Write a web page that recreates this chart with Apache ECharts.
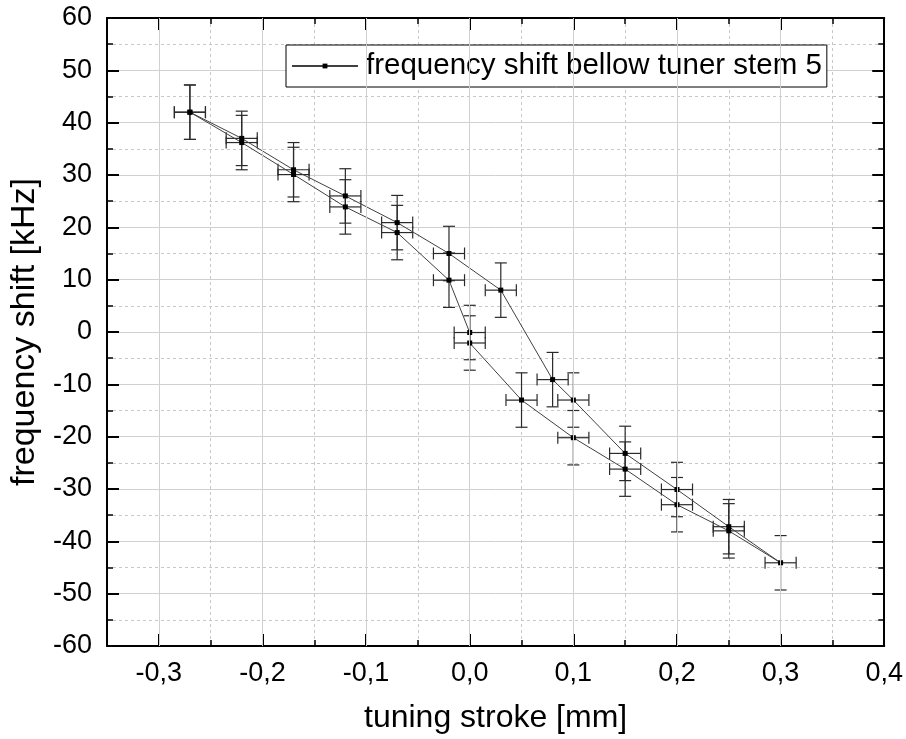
<!DOCTYPE html>
<html>
<head>
<meta charset="utf-8">
<script src="https://cdn.jsdelivr.net/npm/echarts@6/dist/echarts.min.js"></script>
<style>
  html, body { margin: 0; padding: 0; background: #fff; }
  #chart { width: 906px; height: 739px; }
</style>
</head>
<body>
<div id="chart"></div>
<script>
// tuning stroke [mm] and frequency shift [kHz], stroke going forward (upper branch)
const strokeForward = [-0.27, -0.22, -0.17, -0.12, -0.07, -0.02, 0.03, 0.08, 0.10, 0.15, 0.20, 0.25, 0.30]
const shiftForward = [42.0, 37.0, 31.0, 26.0, 20.9, 15.0, 8.0, -9.1, -13.0, -23.2, -30.1, -37.2, -44.1]
// stroke going back (lower branch)
const strokeBack = [0.25, 0.20, 0.15, 0.10, 0.05, 0.00, 0.00, -0.02, -0.07, -0.12, -0.17, -0.22, -0.27]
const shiftBack = [-38.0, -33.0, -26.2, -20.2, -13.0, -2.1, -0.1, 9.9, 19.0, 23.9, 30.1, 36.2, 42.0]

// error bars
const strokeErr = 0.015
const shiftErr = 5.2

const xMajorTicks = [-0.3, -0.2, -0.1, 0.0, 0.1, 0.2, 0.3, 0.4]
const seriesName = 'frequency shift bellow tuner stem 5'

const FONT = '"Liberation Sans", Arial, sans-serif'

const points = []
strokeForward.forEach( ( x, i ) => points.push( [x, shiftForward[i]] ) )
strokeBack.forEach( ( x, i ) => points.push( [x, shiftBack[i]] ) )

const chart = echarts.init( document.getElementById( 'chart' ) )

const fmtX = v => {
  const r = Math.round( v * 10 ) / 10 + 0
  return r.toFixed( 1 ).replace( '.', ',' )
}

const xBase = {
  type : 'value',
  min : -0.35,
  max : 0.4,
  interval : 0.05,
  gridIndex : 0
}

const yBase = {
  type : 'value',
  min : -60,
  max : 60,
  interval : 10,
  gridIndex : 0
}

chart.setOption( {
  animation : false,
  textStyle : { fontFamily : FONT },
  grid : {
    left : 107,
    right : 21,
    top : 18,
    bottom : 92,
    containLabel : false
  },
  legend : {
    data : [seriesName],
    left : 286,
    top : 45,
    padding : [6, 5, 6, 5],
    borderColor : '#000',
    borderWidth : 1,
    backgroundColor : '#fff',
    itemWidth : 66,
    itemHeight : 6,
    itemGap : 8,
    textStyle : { fontSize : 29.5, color : '#000', fontFamily : FONT, padding : [0, 0, 0, 3] }
  },
  xAxis : [
    // minor ticks + dashed grid every 0.05, carries the axis line and name
    Object.assign( {}, xBase, {
      position : 'bottom',
      name : 'tuning stroke [mm]',
      nameLocation : 'middle',
      nameGap : 56,
      nameTextStyle : { fontSize : 32, color : '#000', fontFamily : FONT },
      axisLine : { show : true, onZero : false, lineStyle : { color : '#000', width : 2 } },
      axisTick : { show : true, inside : true, length : 6, lineStyle : { color : '#000', width : 1.5 } },
      axisLabel : { show : false },
      splitLine : { show : true, lineStyle : { color : '#c8c8c8', width : 1, type : [3, 3] } }
    } ),
    // major ticks and labels at 0.1
    Object.assign( {}, xBase, {
      position : 'bottom',
      axisLine : { show : false, onZero : false },
      axisTick : { show : true, inside : true, length : 12, customValues : xMajorTicks, lineStyle : { color : '#000', width : 2 } },
      axisLabel : {
        show : true,
        customValues : xMajorTicks,
        margin : 14,
        fontSize : 27,
        color : '#000',
        fontFamily : FONT,
        formatter : v => ( Math.round( v * 20 ) % 2 ? '' : fmtX( v ) )
      },
      splitLine : { show : false }
    } ),
    Object.assign( {}, xBase, {
      position : 'top',
      axisLine : { show : true, onZero : false, lineStyle : { color : '#000', width : 2 } },
      axisTick : { show : true, inside : true, length : 6, lineStyle : { color : '#000', width : 1.5 } },
      axisLabel : { show : false },
      splitLine : { show : false }
    } ),
    Object.assign( {}, xBase, {
      position : 'top',
      axisLine : { show : false, onZero : false },
      axisTick : { show : true, inside : true, length : 12, customValues : xMajorTicks, lineStyle : { color : '#000', width : 2 } },
      axisLabel : { show : false },
      splitLine : { show : false }
    } )
  ],
  yAxis : [
    Object.assign( {}, yBase, {
      position : 'left',
      name : 'frequency shift [kHz]',
      nameLocation : 'middle',
      nameGap : 58,
      nameTextStyle : { fontSize : 34, color : '#000', fontFamily : FONT },
      axisLine : { show : true, onZero : false, lineStyle : { color : '#000', width : 2 } },
      axisTick : { show : true, inside : true, length : 12, lineStyle : { color : '#000', width : 2 } },
      minorTick : { show : true, splitNumber : 2, length : 6, lineStyle : { color : '#000', width : 1.5 } },
      axisLabel : { margin : 15, fontSize : 27, color : '#000', fontFamily : FONT },
      splitLine : { show : true, lineStyle : { color : '#d0d0d0', width : 1 } },
      minorSplitLine : { show : true, lineStyle : { color : '#c8c8c8', width : 1, type : [3, 3] } }
    } ),
    Object.assign( {}, yBase, {
      position : 'right',
      axisLine : { show : true, onZero : false, lineStyle : { color : '#000', width : 2 } },
      axisTick : { show : true, inside : true, length : 12, lineStyle : { color : '#000', width : 2 } },
      minorTick : { show : true, splitNumber : 2, length : 6, lineStyle : { color : '#000', width : 1.5 } },
      axisLabel : { show : false },
      splitLine : { show : false }
    } )
  ],
  series : [
    {
      // solid major vertical grid lines at the 0.1 ticks
      type : 'line',
      xAxisIndex : 0,
      yAxisIndex : 0,
      data : [],
      silent : true,
      markLine : {
        silent : true,
        symbol : 'none',
        label : { show : false },
        lineStyle : { color : '#d0d0d0', width : 1, type : 'solid' },
        data : xMajorTicks.filter( v => v < 0.4 ).map( v => ( { xAxis : v } ) )
      },
      z : 0
    },
    {
      name : 'error',
      type : 'custom',
      xAxisIndex : 0,
      yAxisIndex : 0,
      data : points,
      encode : { x : 0, y : 1 },
      z : 3,
      renderItem : ( params, api ) => {
        const x = api.value( 0 )
        const y = api.value( 1 )
        const top = api.coord( [x, y + shiftErr] )
        const bottom = api.coord( [x, y - shiftErr] )
        const left = api.coord( [x - strokeErr, y] )
        const right = api.coord( [x + strokeErr, y] )
        const cap = 6
        const style = { stroke : '#2a2a2a', lineWidth : 1.2 }
        const seg = ( x1, y1, x2, y2 ) => ( { type : 'line', shape : { x1, y1, x2, y2 }, style } )
        return {
          type : 'group',
          children : [
            seg( top[0], top[1], bottom[0], bottom[1] ),
            seg( top[0] - cap, top[1], top[0] + cap, top[1] ),
            seg( bottom[0] - cap, bottom[1], bottom[0] + cap, bottom[1] ),
            seg( left[0], left[1], right[0], right[1] ),
            seg( left[0], left[1] - cap, left[0], left[1] + cap ),
            seg( right[0], right[1] - cap, right[0], right[1] + cap )
          ]
        }
      }
    },
    {
      name : seriesName,
      type : 'line',
      xAxisIndex : 0,
      yAxisIndex : 0,
      data : points,
      symbol : 'rect',
      symbolSize : 5,
      showSymbol : true,
      z : 4,
      itemStyle : { color : '#000' },
      lineStyle : { color : '#404040', width : 1 }
    }
  ]
} )
</script>
</body>
</html>
